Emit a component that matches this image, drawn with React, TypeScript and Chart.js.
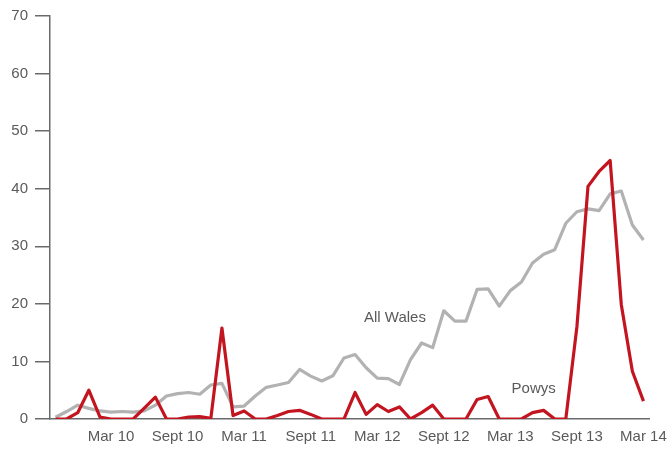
import React, { useEffect, useRef } from "react";
import { Chart, registerables } from "chart.js";

Chart.register(...registerables);

const months = [
  "Oct 09", "Nov 09", "Dec 09",
  "Jan 10", "Feb 10", "Mar 10", "Apr 10", "May 10", "Jun 10", "Jul 10", "Aug 10", "Sept 10", "Oct 10", "Nov 10", "Dec 10",
  "Jan 11", "Feb 11", "Mar 11", "Apr 11", "May 11", "Jun 11", "Jul 11", "Aug 11", "Sept 11", "Oct 11", "Nov 11", "Dec 11",
  "Jan 12", "Feb 12", "Mar 12", "Apr 12", "May 12", "Jun 12", "Jul 12", "Aug 12", "Sept 12", "Oct 12", "Nov 12", "Dec 12",
  "Jan 13", "Feb 13", "Mar 13", "Apr 13", "May 13", "Jun 13", "Jul 13", "Aug 13", "Sept 13", "Oct 13", "Nov 13", "Dec 13",
  "Jan 14", "Feb 14", "Mar 14",
];

const allWales = [
  0.3, 1.3, 2.4, 1.85, 1.4, 1.2, 1.3, 1.2, 1.4, 2.4, 4.0, 4.4, 4.6, 4.3, 5.9,
  6.2, 2.1, 2.25, 4.0, 5.5, 5.9, 6.35, 8.6, 7.45, 6.6, 7.5, 10.6, 11.2, 8.9,
  7.1, 7.0, 6.0, 10.3, 13.2, 12.4, 18.8, 17.0, 17.0, 22.5, 22.6, 19.6, 22.3,
  23.8, 27.1, 28.6, 29.4, 34.0, 36.0, 36.5, 36.2, 39.1, 39.6, 33.7, 31.1,
];

const powys = [
  0, 0, 1.1, 5.0, 0.35, 0, 0, 0, 1.9, 3.8, 0, 0, 0.35, 0.4, 0.1,
  15.8, 0.6, 1.4, 0, 0, 0.6, 1.3, 1.5, 0.8, 0, 0, 0, 4.6, 0.8,
  2.5, 1.3, 2.1, 0, 1.1, 2.4, 0, 0, 0, 3.4, 3.9, 0, 0,
  0, 1.1, 1.5, 0, 0, 16.0, 40.4, 43.0, 44.9, 19.9, 8.3, 3.1,
];

const yTicks = [0, 10, 20, 30, 40, 50, 60, 70];
const shownTickPrefixes = ["Mar", "Sept"];

const seriesNames = ["Powys", "All Wales"];
const labelIndex = [43.1, 30.6];
const labelValue = [5.3, 17.5];

const RED = "#c3151f";
const GREY = "#b2b2b2";
const AXIS = "#6a6a6a";
const TEXT = "#5a5a5a";
const FONT = "'Liberation Sans', Arial, sans-serif";

const seriesLabelPlugin = {
  id: "seriesLabels",
  afterDatasetsDraw(chart: any) {
    const { ctx, scales } = chart;
    ctx.save();
    ctx.font = `15px ${FONT}`;
    ctx.fillStyle = TEXT;
    ctx.textAlign = "center";
    ctx.textBaseline = "middle";
    seriesNames.forEach((name, i) => {
      const x = scales.x.getPixelForValue(labelIndex[i]);
      const y = scales.y.getPixelForValue(labelValue[i]);
      ctx.fillText(name, x, y);
    });
    ctx.restore();
  },
};

export default function App() {
  const ref = useRef<HTMLCanvasElement | null>(null);

  useEffect(() => {
    if (!ref.current) return;
    const chart = new Chart(ref.current, {
      type: "line",
      data: {
        labels: months,
        datasets: [
          {
            label: seriesNames[0],
            data: powys,
            borderColor: RED,
            backgroundColor: RED,
            borderWidth: 3.2,
            borderJoinStyle: "round",
            pointRadius: 0,
            tension: 0,
          },
          {
            label: seriesNames[1],
            data: allWales,
            borderColor: GREY,
            backgroundColor: GREY,
            borderWidth: 3.2,
            borderJoinStyle: "round",
            pointRadius: 0,
            tension: 0,
          },
        ],
      },
      options: {
        responsive: false,
        animation: false,
        layout: { padding: { top: 13.5, right: 21, left: 0, bottom: 0 } },
        plugins: {
          legend: { display: false },
          tooltip: { enabled: false },
        },
        scales: {
          x: {
            type: "category",
            offset: true,
            grid: { display: false, drawTicks: false },
            border: { display: true, color: AXIS, width: 1.5 },
            ticks: {
              autoSkip: false,
              maxRotation: 0,
              minRotation: 0,
              padding: 9,
              color: TEXT,
              font: { size: 15, family: FONT },
              callback: (_v: any, i: number) => {
                const l = months[i];
                return shownTickPrefixes.some((p) => l.startsWith(p + " ")) ? l : "";
              },
            },
            afterFit: (s: any) => {
              s.height = 32;
              s.paddingLeft = 0;
              s.paddingRight = 0;
            },
          },
          y: {
            min: yTicks[0],
            max: yTicks[yTicks.length - 1],
            afterBuildTicks: (s: any) => {
              s.ticks = yTicks.map((v) => ({ value: v }));
            },
            grid: {
              drawOnChartArea: false,
              drawTicks: true,
              tickLength: 15,
              color: AXIS,
              lineWidth: 1.5,
            },
            border: { display: true, color: AXIS, width: 1.5 },
            ticks: {
              padding: 7,
              color: TEXT,
              font: { size: 15, family: FONT },
            },
            afterFit: (s: any) => {
              s.width = 50;
            },
          },
        },
      },
      plugins: [seriesLabelPlugin],
    });
    return () => chart.destroy();
  }, []);

  return (
    <div style={{ position: "fixed", left: 0, top: 0, width: 670, height: 451, background: "#fff" }}>
      <canvas ref={ref} width={670} height={451} />
    </div>
  );
}
